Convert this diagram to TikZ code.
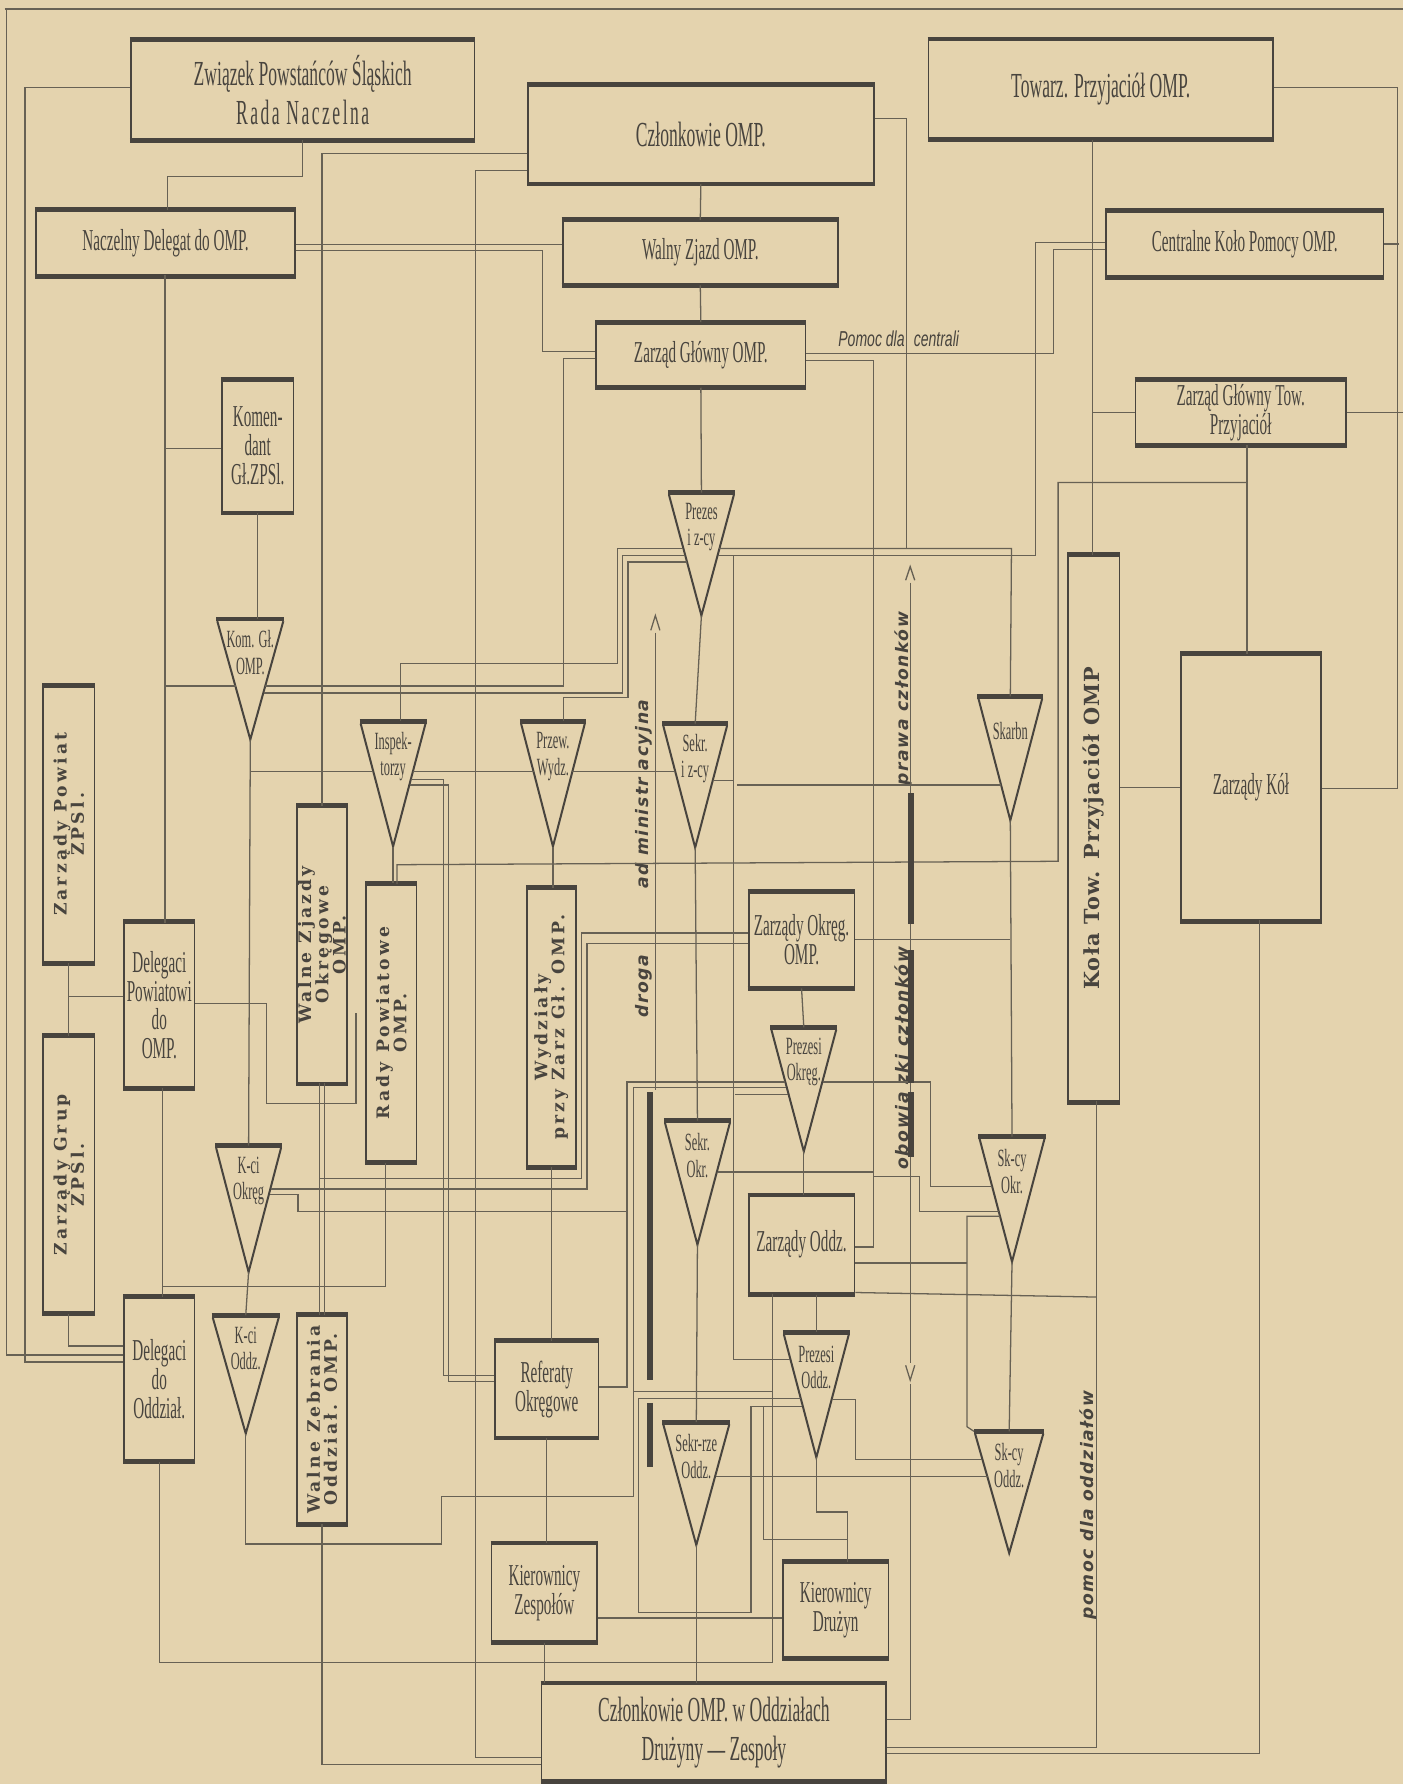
\documentclass[tikz,border=0pt]{standalone}
\usepackage{fontspec}
\setmainfont[FakeStretch=0.5]{Liberation Serif}
\newfontfamily\spacedserif[FakeStretch=0.5,LetterSpace=7]{Liberation Serif}
\newfontfamily\vertfont[LetterSpace=18]{DejaVu Serif}
\newfontfamily\kolafont[LetterSpace=6]{DejaVu Serif}
\newfontfamily\notefont[LetterSpace=9]{DejaVu Sans}
\newfontfamily\capfont[FakeStretch=0.65]{Liberation Sans}
\usepackage{tikz}
\definecolor{paper}{RGB}{228,211,174}
\definecolor{ink}{RGB}{72,68,62}
\colorlet{thinink}{ink!80!paper}

% inverted triangle: name, x, top y, half width, height, text
\newcommand\trisign[6]{%
  \coordinate (#1-t) at (#2,#3);
  \coordinate (#1-a) at (#2,#3+#5);
  \draw[bar] (#2-#4,#3) -- (#2+#4,#3);
  \draw[tri] (#2-#4+1,#3+2) -- (#1-a) -- (#2+#4-1,#3+2);
  \node[trilab] (#1) at (#2,#3+0.28*#5) {#6};
}

\begin{document}
\begin{tikzpicture}[x=0.1mm, y=-0.1mm,
    ln/.style={draw=thinink, line width=0.32pt},
    bar/.style={draw=ink, line width=1.2pt},
    tri/.style={draw=ink, line width=0.5pt},
    bx/.style={draw=ink, line width=0.45pt, inner sep=0pt, align=center, text=ink,
      append after command={(\tikzlastnode.north west) edge[bar] (\tikzlastnode.north east)
                            (\tikzlastnode.south west) edge[bar] (\tikzlastnode.south east)}},
    big/.style={font=\fontsize{8.8}{9.8}\selectfont},
    mid/.style={font=\fontsize{7.6}{7.2}\selectfont},
    trilab/.style={font=\fontsize{6.2}{6.6}\selectfont, text=ink, inner sep=0pt, align=center},
    vlab/.style={rotate=90, align=center, text=ink, inner sep=0pt,
      font=\vertfont\bfseries\fontsize{4.3}{4.3}\selectfont},
    note/.style={rotate=90, text=ink, inner sep=0pt,
      font=\notefont\bfseries\itshape\fontsize{4.3}{5}\selectfont},
    capnote/.style={text=ink, inner sep=0pt, font=\capfont\itshape\fontsize{5.4}{6}\selectfont},
  ]
  \useasboundingbox (0,0) rectangle (1233,1568);
  \fill[paper] (0,0) rectangle (1233,1568);

  % boxes
  \node[bx, big, minimum width=30.2mm, minimum height=8.7mm] (zps) at (266,79) {Związek Powstańców Śląskich\\{\spacedserif Rada Naczelna}};
  \node[bx, big, minimum width=30.4mm, minimum height=8.6mm] (czl) at (616,118) {Członkowie OMP.};
  \node[bx, big, minimum width=30.3mm, minimum height=8.7mm] (tow) at (967.5,78.5) {Towarz. Przyjaciół OMP.};
  \node[bx, mid, minimum width=22.8mm, minimum height=5.7mm] (nacz) at (145.5,213.5) {Naczelny Delegat do OMP.};
  \node[bx, mid, minimum width=24.2mm, minimum height=5.6mm] (walny) at (615.5,222) {Walny Zjazd OMP.};
  \node[bx, mid, minimum width=24.4mm, minimum height=5.7mm] (ckp) at (1094,214.5) {Centralne Koło Pomocy OMP.};
  \node[bx, mid, minimum width=18.4mm, minimum height=5.6mm] (zg) at (616,312) {Zarząd Główny OMP.};
  \node[bx, mid, minimum width=18.5mm, minimum height=5.7mm] (zgt) at (1090.5,362.5) {Zarząd Główny Tow.\\Przyjaciół};
  \node[bx, mid, minimum width=6.3mm, minimum height=11.6mm] (kom) at (226.5,392) {Komen-\\dant\\Gł.ZPSl.};
  \node[bx, minimum width=4.5mm, minimum height=24.3mm] (zpow) at (60.5,724.5) {};
  \node[bx, minimum width=4.5mm, minimum height=24.3mm] (zgrup) at (60.5,1032.5) {};
  \node[bx, mid, minimum width=6.2mm, minimum height=14.5mm] (delpow) at (140,883.5) {Delegaci\\Powiatowi\\do\\OMP.};
  \node[bx, mid, minimum width=6.2mm, minimum height=14.4mm] (deloddz) at (140,1212) {Delegaci\\do\\Oddział.};
  \node[bx, minimum width=4.4mm, minimum height=24.3mm] (wzo) at (283,830.5) {};
  \node[bx, minimum width=4.4mm, minimum height=24.4mm] (rady) at (344,899) {};
  \node[bx, minimum width=4.3mm, minimum height=24.4mm] (wydz) at (484.5,903) {};
  \node[bx, minimum width=4.4mm, minimum height=18.3mm] (wzodd) at (283,1247.5) {};
  \node[bx, mid, minimum width=9.3mm, minimum height=8.4mm] (zokr) at (704.5,826) {Zarządy Okręg.\\OMP.};
  \node[bx, mid, minimum width=9.3mm, minimum height=8.6mm] (zoddz) at (704.5,1094) {Zarządy Oddz.};
  \node[bx, mid, minimum width=9.1mm, minimum height=8.4mm] (ref) at (480.5,1221) {Referaty\\Okręgowe};
  \node[bx, mid, minimum width=9.3mm, minimum height=8.6mm] (kzesp) at (478.5,1400) {Kierownicy\\Zespołów};
  \node[bx, mid, minimum width=9.3mm, minimum height=8.4mm] (kdruz) at (734.5,1415) {Kierownicy\\Drużyn};
  \node[bx, big, minimum width=30.3mm, minimum height=8.5mm] (czlodd) at (627.5,1522.5) {Członkowie OMP. w Oddziałach\\Drużyny — Zespoły};
  \node[bx, minimum width=4.5mm, minimum height=48mm] (kola) at (961.5,728) {};
  \node[bx, mid, minimum width=12.3mm, minimum height=23.4mm] (zkol) at (1099.5,692) {Zarządy Kół};

  \node[vlab] (zpowtx) at (zpow) {Zarządy Powiat\\ZPSl.};
  \node[vlab] (zgruptx) at (zgrup) {Zarządy Grup\\ZPSl.};
  \node[vlab] (wzotx) at (wzo) {Walne Zjazdy\\Okręgowe\\OMP.};
  \node[vlab] (radytx) at (rady) {Rady Powiatowe\\OMP.};
  \node[vlab] (wydztx) at (wydz) {Wydziały\\przy Zarz Gł. OMP.};
  \node[vlab] (wzoddtx) at (wzodd) {Walne Zebrania\\Oddział. OMP.};
  \node[vlab, font=\kolafont\bfseries\fontsize{5.2}{5.2}\selectfont] (kolatx) at (kola) {Koła Tow. Przyjaciół OMP};

  % triangles
  \trisign{prez}{616.5}{433}{29.5}{108}{Prezes\\i z-cy}
  \trisign{komgl}{220}{544}{30}{106}{Kom. Gł.\\OMP.}
  \trisign{insp}{345.5}{634}{29.5}{110}{Inspek-\\torzy}
  \trisign{przew}{486}{634}{29}{110}{Przew.\\Wydz.}
  \trisign{sekr}{611}{636}{29}{109}{Sekr.\\i z-cy}
  \trisign{skarb}{888}{612}{29}{109}{Skarbn}
  \trisign{prok}{706.5}{903}{29.5}{109}{Prezesi\\Okręg.}
  \trisign{sekokr}{613}{985}{29.5}{109}{Sekr.\\Okr.}
  \trisign{kciokr}{218.5}{1007}{29.5}{111}{K-ci\\Okręg}
  \trisign{skokr}{889.5}{999}{29.5}{110}{Sk-cy\\Okr.}
  \trisign{kcioddz}{216}{1156}{30}{104}{K-ci\\Oddz.}
  \trisign{prodd}{717.5}{1171}{29.5}{110}{Prezesi\\Oddz.}
  \trisign{sekodd}{612}{1250}{30}{108}{Sekr-rze\\Oddz.}
  \trisign{skodd}{887}{1258}{31}{107}{Sk-cy\\Oddz.}

  % notes along the lines
  \node[capnote] (pomocdla) at (766,298) {Pomoc dla};
  \node[capnote] (centrali) at (823,298) {centrali};
  \node[note] (droga) at (566,867) {droga};
  \node[note] (admin) at (566,698) {ad ministr acyjna};
  \node[note] (prawa) at (794,614) {prawa członków};
  \node[note] (obow) at (794,930) {obowią zki członków};
  \node[note] (pomoc) at (957,1323) {pomoc dla oddziałów};

  % frame
  \draw[ln] (4,8) -- (1233,8);
  \draw[ln] (6,8) -- (6,1191) -- (deloddz.west |- 0,1191);
  \draw[ln] (zps.west |- 0,77) -- (22,77) -- (22,1197) -- (deloddz.west |- 0,1197);
  \draw[ln] (tow.east |- 0,77) -- (1228,77) -- (1228,693) -- (zkol.east |- 0,693);
  \draw[ln] (ckp.east) -- ++(13,0);
  \draw[ln] (zgt.east) -- (1233,362.5);

  % top part
  \draw[ln] (zps.south) |- (147,155) -- (147,185);
  \draw[ln] (czl.west |- 0,135) -- (283,135) -- (wzo.north);
  \draw[ln] (czl.west |- 0,150) -- (418,150) -- (418,1545) -- (czlodd.west |- 0,1545);
  \draw[ln] (czl.south) -- (walny.north);
  \draw[ln] (walny.south) -- (zg.north);
  \draw[ln] (zg.south) -- (prez-t);
  \draw[ln] (nacz.east |- 0,215) -- (walny.west |- 0,215);
  \draw[ln] (nacz.east |- 0,220) -- (477,220) -- (477,309) -- (zg.west |- 0,309);
  \draw[ln] (zg.west |- 0,315) -- (495,315) -- (495,603) -- (233,603);
  \draw[ln] (czl.east |- 0,104) -- (797,104) -- (797,482);
  \draw[ln] (zg.east |- 0,311) -- (926,311) -- (926,219) -- (ckp.west |- 0,219);
  \draw[ln] (zg.east |- 0,317) -- (768,317) -- (768,1096) -- (zoddz.east |- 0,1096);
  \draw[ln] (ckp.west |- 0,213) -- (910,213) -- (910,488) -- (631,488);
  \draw[ln] (632,482) -- (889,482) -- (skarb-t);
  \draw[ln] (960,122.7) -- (960,488);
  \draw[ln] (zgt.west) -- (960,362.5);
  \draw[ln] (1096,391) -- (1096,575);
  \draw[ln] (1096,424) -- (930,424) -- (930,757) -- (349,760) -- (349,777);
  \draw[ln] (kola.east |- zkol.west) -- (zkol.west);
  \draw[ln] (1107,809) -- (1107,1541) -- (czlodd.east |- 0,1541);
  \draw[ln] (964,968) -- (964,1536) -- (czlodd.east |- 0,1536);

  % left part
  \draw[ln] (145,242) -- (145,811);
  \draw[ln] (145,394) -- (kom.west |- 0,394);
  \draw[ln] (145,603) -- (207,603);
  \draw[ln] (kom.south) -- (kom.south |- komgl-t);
  \draw[ln] (komgl-a) -- (kciokr-t);
  \draw[ln] (kciokr-a) -- (kcioddz-t);
  \draw[ln] (232,609) -- (547,609) -- (547,488) -- (602,488);
  \draw[ln] (600,482) -- (543,482) -- (543,583) -- (352,583) -- (352,634);
  \draw[ln] (604,494) -- (552,494) -- (552,613) -- (495,613) -- (495,634);
  \draw[ln] (220,678) -- (328,678);
  \draw[ln] (363,678) -- (469,678);
  \draw[ln] (361,685) -- (390,685) -- (390,1209) -- (ref.west |- 0,1209);
  \draw[ln] (360,690) -- (394,690) -- (394,1214) -- (ref.west |- 0,1214);
  \draw[ln] (503,678) -- (593,678);
  \draw[ln] (627,686) -- (645,686);
  \draw[ln] (648,690) -- (880,690);
  \draw[ln] (zpow.south) -- (zgrup.north);
  \draw[ln] (60.5,876) -- (delpow.west |- 0,876);
  \draw[ln] (zgrup.south) -- (60.5,1183) -- (deloddz.west |- 0,1183);
  \draw[ln] (delpow.east |- 0,882) -- (234,882) -- (234,970) -- (313,970) -- (313,890);
  \draw[ln] (rady.south -| 339,0) -- (339,1131) -- (143,1131);
  \draw[ln] (143,956) -- (143,1140);
  \draw[ln] (deloddz.south) -- (140,1461) -- (679,1461) -- (679,1137);
  \draw[ln] (281,952) -- (281,1156) (285,952) -- (285,1156);
  \draw[ln] (wzodd.south) -- (283,1551) -- (czlodd.west |- 0,1551);

  % middle part
  \draw[ln] (prez-a) -- (sekr-t);
  \draw[ln] (sekr-a) -- (sekokr-t);
  \draw[ln] (sekokr-a) -- (sekodd-t);
  \draw[ln] (sekodd-a) -- (sekodd-a |- czlodd.north);
  \draw[ln] (insp-a) -- (insp-a |- rady.north);
  \draw[ln] (przew-a) -- (przew-a |- wydz.north);
  \draw[ln] (wydz.south) -- (wydz.south |- ref.north);
  \draw[ln] (ref.south) -- (ref.south |- kzesp.north);
  \draw[ln] (kzesp.south) -- (kzesp.south |- czlodd.north);
  \draw[ln] (skarb-a) -- (skokr-t);
  \draw[ln] (skokr-a) -- (skodd-t);
  \draw[ln] (zokr.south) -- (prok-t);
  \draw[ln] (prok-a) -- (prok-a |- zoddz.north);
  \draw[ln] (zoddz.south -| prodd-t) -- (prodd-t);
  \draw[ln] (prodd-a) -- (717.5,1329) -- (745,1329) -- (745,1373);
  \draw[ln] (kzesp.east |- 0,1422) -- (kdruz.west |- 0,1422);
  \draw[ln] (zokr.west |- 0,820) -- (511,820) -- (511,1036) -- (281,1036);
  \draw[ln] (zokr.west |- 0,829) -- (516,829) -- (516,1045) -- (238,1045);
  \draw[ln] (237,1050) -- (262,1050) -- (262,1065) -- (551,1065);
  \draw[ln] (ref.east |- 0,1219) -- (551,1219) -- (551,951) -- (690,951);
  \draw[ln] (kcioddz-a) -- (216,1357) -- (388,1357) -- (388,1315) -- (557,1315) -- (557,956) -- (691,956);
  \draw[ln] (645,488) -- (645,1195) -- (694,1195);
  \draw[ln] (646,962) -- (693,962);
  \draw[ln] (723,951) -- (818,951) -- (818,1043) -- (872,1043);
  \draw[ln] (768,1034) -- (808,1034) -- (808,1065) -- (878,1065);
  \draw[ln] (631,1030) -- (768,1030);
  \draw[ln] (zokr.east) -- (888,826);
  \draw[ln] (zoddz.east |- 0,1110) -- (850,1110);
  \draw[ln] (zoddz.east |- 0,1136) -- (964,1140);
  \draw[ln] (879,1069) -- (850,1069) -- (850,1254) -- (856,1258);
  \draw[ln] (731,1230) -- (752,1230) -- (752,1283) -- (863,1283);
  \draw[ln] (629,1298) -- (868,1298);
  \draw[ln] (557,1223) -- (679,1223);
  \draw[ln] (704,1229) -- (561,1229) -- (561,1417) -- (660,1417) -- (660,1236) -- (705,1236);
  \draw[ln] (671,1236) -- (671,1353) -- (745,1353);

  % arrow columns
  \draw[ln] (572,554) -- (576,541) -- (580,554);
  \draw[ln] (576,556) -- (576,958);
  \draw[bar, line width=1.5pt] (571,960) -- (571,1213) (571,1233) -- (571,1289);
  \draw[ln] (796,510) -- (800,498) -- (804,510);
  \draw[ln] (800,512) -- (800,1198);
  \draw[bar, line width=1.5pt] (801,697) -- (801,812) (801,835) -- (801,952) (801,960) -- (801,1017);
  \draw[ln] (796,1200) -- (800,1213) -- (804,1200);
  \draw[ln] (800,1216) -- (800,1511) -- (czlodd.east |- 0,1511);
\end{tikzpicture}
\end{document}
